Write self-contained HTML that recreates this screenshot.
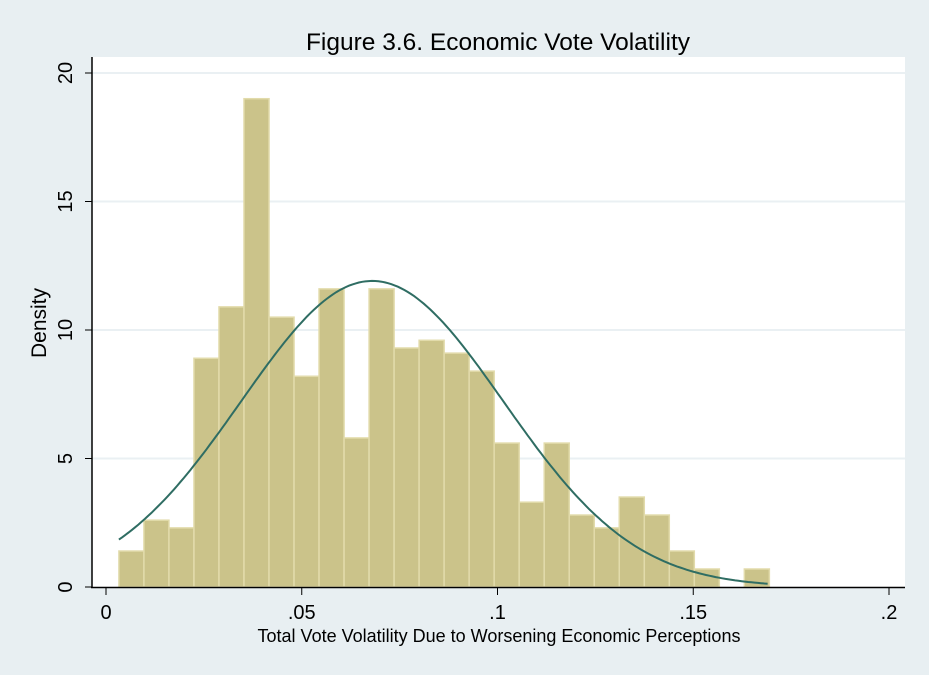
<!DOCTYPE html>
<html><head><meta charset="utf-8"><style>
body{margin:0;background:#e8eff2;}
svg{display:block;font-family:"Liberation Sans",sans-serif;}
</style></head><body>
<svg id="chart" width="929" height="675">
<rect x="0" y="0" width="929" height="675" fill="#e8eff2"/>
<rect x="92" y="57" width="813" height="530" fill="#ffffff"/>
<g id="grid"></g><g id="bars"></g><g id="curve"></g><g id="axes"></g>
<text x="498" y="50" text-anchor="middle" font-size="24.5" fill="#000">Figure 3.6. Economic Vote Volatility</text>
<text x="499" y="642" text-anchor="middle" font-size="18" fill="#000">Total Vote Volatility Due to Worsening Economic Perceptions</text>
<text transform="translate(46,323) rotate(-90)" text-anchor="middle" font-size="21" fill="#000">Density</text>
</svg>
<script>
const binStart = 0.0033;
const binWidth = 0.00639;
const densities = [1.4,2.6,2.3,8.9,10.9,19.0,10.5,8.2,11.6,5.8,11.6,9.3,9.6,9.1,8.4,5.6,3.3,5.6,2.8,2.3,3.5,2.8,1.4,0.7,0,0.7];
const xTicks = [0,0.05,0.1,0.15,0.2];
const xTickLabels = ["0",".05",".1",".15",".2"];
const yTicks = [0,5,10,15,20];
const curveMean = 0.068;
const curveSd = 0.0335;
const curveRange = [0.0033,0.169];

const NS="http://www.w3.org/2000/svg";
const X=v=>106+v*(889-106)/0.2;
const Y=v=>587-v*(587-73)/20;
function mk(tag,attrs,parent){const e=document.createElementNS(NS,tag);for(const k in attrs)e.setAttribute(k,attrs[k]);document.getElementById(parent).appendChild(e);return e;}

yTicks.forEach((t,i)=>{
  if(t>0){const g=mk('line',{x1:92,x2:905,y1:Y(t),y2:Y(t),stroke:'#eaf0f3','stroke-width':2},'grid');
  
  }
  const tk=mk('line',{x1:85,x2:92,y1:Y(t),y2:Y(t),stroke:'#000','stroke-width':1},'axes');
  
  
  const tx=mk('text',{transform:`translate(72,${Y(t)}) rotate(-90)`,'text-anchor':'middle','font-size':20},'axes');
  tx.textContent=String(t);
  
  
});
densities.forEach((d,i)=>{
  const x0=X(binStart+i*binWidth),x1=X(binStart+(i+1)*binWidth);
  if(d<=0)return;
  const r=mk('rect',{x:x0,y:Y(d),width:x1-x0,height:Y(0)-Y(d),fill:'#cbc38a',stroke:'#e2dbab','stroke-width':1.5},'bars');
  
  
});
let pts=[];
for(let i=0;i<=200;i++){const v=curveRange[0]+(curveRange[1]-curveRange[0])*i/200;
  const d=Math.exp(-0.5*((v-curveMean)/curveSd)**2)/(curveSd*Math.sqrt(2*Math.PI));
  pts.push(X(v).toFixed(1)+','+Y(d).toFixed(1));}
const c=mk('polyline',{points:pts.join(' '),fill:'none',stroke:'#2f6d63','stroke-width':2},'curve');


const ya=mk('line',{x1:92,x2:92,y1:57,y2:588,stroke:'#000','stroke-width':1.5},'axes');


const xa=mk('line',{x1:91,x2:905,y1:587.5,y2:587.5,stroke:'#000','stroke-width':1.5},'axes');


xTicks.forEach((t,i)=>{
  const tk=mk('line',{x1:X(t),x2:X(t),y1:588,y2:595,stroke:'#000','stroke-width':1},'axes');
  
  
  const tx=mk('text',{x:X(t),y:619,'text-anchor':'middle','font-size':20},'axes');
  tx.textContent=xTickLabels[i];
  
  
});
</script>
</body></html>
